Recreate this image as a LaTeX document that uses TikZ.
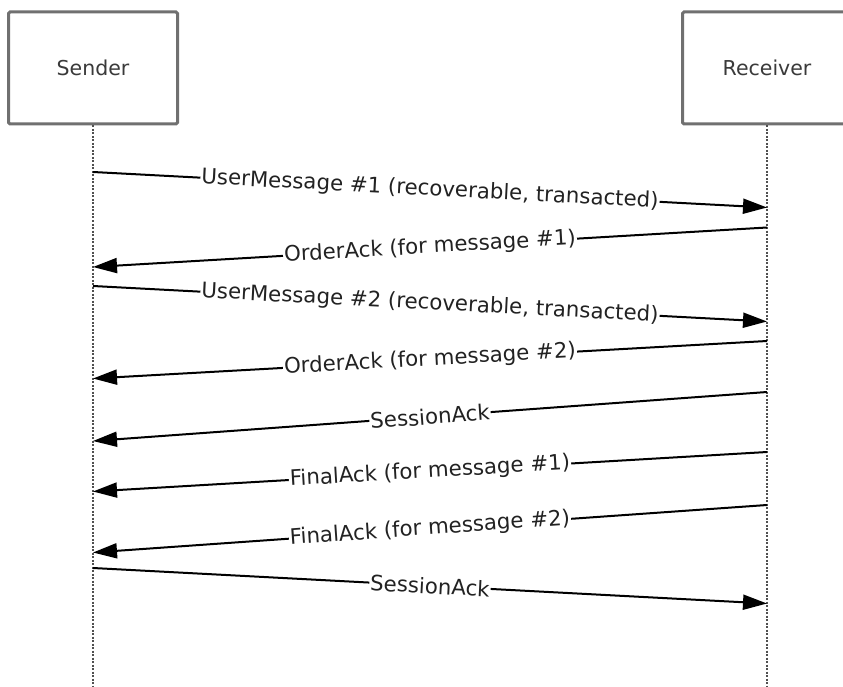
\documentclass[tikz,border=0pt]{standalone}
\usepackage{fontspec}
\setmainfont{DejaVu Sans}
\usetikzlibrary{arrows.meta}
\definecolor{boxgray}{HTML}{707070}
\definecolor{txtgray}{HTML}{3A3A3A}
\definecolor{linegray}{HTML}{505050}
\definecolor{txtdark}{HTML}{222222}
\begin{document}
\begin{tikzpicture}[x=1pt,y=-1pt,
  actor/.style={draw=boxgray, line width=3pt, rounded corners=1.5pt, minimum width=169pt, minimum height=112pt, inner sep=0pt, text=txtgray, font=\fontsize{20.5}{24}\selectfont},
  lifeline/.style={draw=linegray, line width=2.6pt, dash pattern=on 2pt off 1.5pt},
  msg/.style={draw=black, line width=2pt, -{Triangle[length=24pt,width=15pt]}},
  lbl/.style={sloped, fill=white, inner sep=1pt, text=txtdark, font=\fontsize{21.3}{25}\selectfont}]
\useasboundingbox (0,0) rectangle (843,687);
\fill[white] (0,0) rectangle (843,687);
\node[actor] (sender) at (93,68) {Sender};
\node[actor] (receiver) at (767,68) {Receiver};
\coordinate (sendEnd) at (93,687);
\coordinate (recvEnd) at (767,687);
\draw[lifeline] (sender.south) -- (sendEnd);
\draw[lifeline] (receiver.south) -- (recvEnd);
% message endpoints
\coordinate (s1) at (93,172);  \coordinate (r1) at (767,207.5);
\coordinate (r2) at (767,227.5); \coordinate (s2) at (93,267);
\coordinate (s3) at (93,286);  \coordinate (r3) at (767,321.5);
\coordinate (r4) at (767,341); \coordinate (s4) at (93,378.5);
\coordinate (r5) at (767,392); \coordinate (s5) at (93,441);
\coordinate (r6) at (767,452); \coordinate (s6) at (93,491.5);
\coordinate (r7) at (767,505); \coordinate (s7) at (93,552.5);
\coordinate (s8) at (93,568);  \coordinate (r8) at (767,603.5);
\draw[msg] (s1) -- node[lbl] {UserMessage \#1 (recoverable, transacted)} (r1);
\draw[msg] (r2) -- node[lbl] {OrderAck (for message \#1)} (s2);
\draw[msg] (s3) -- node[lbl] {UserMessage \#2 (recoverable, transacted)} (r3);
\draw[msg] (r4) -- node[lbl] {OrderAck (for message \#2)} (s4);
\draw[msg] (r5) -- node[lbl] {SessionAck} (s5);
\draw[msg] (r6) -- node[lbl] {FinalAck (for message \#1)} (s6);
\draw[msg] (r7) -- node[lbl] {FinalAck (for message \#2)} (s7);
\draw[msg] (s8) -- node[lbl] {SessionAck} (r8);
\end{tikzpicture}
\end{document}
